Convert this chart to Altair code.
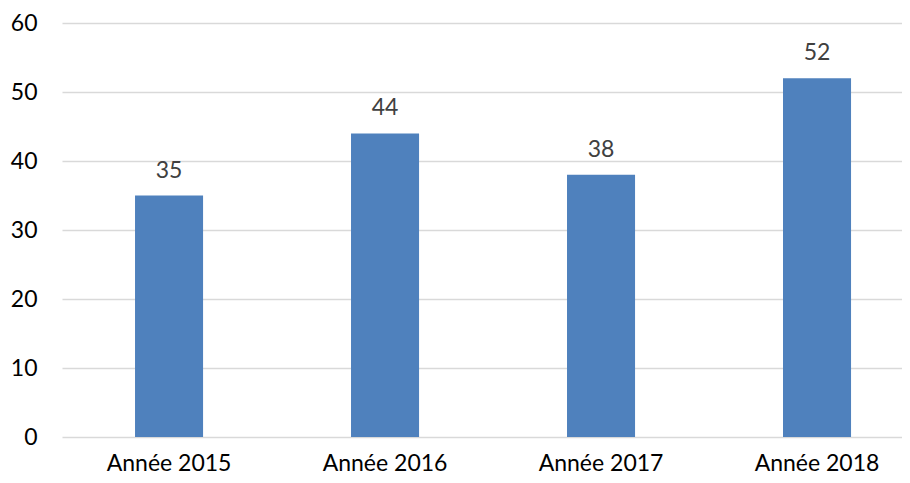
import altair as alt
import pandas as pd

categories = ["Année 2015", "Année 2016", "Année 2017", "Année 2018"]
values = [35, 44, 38, 52]

df = pd.DataFrame({"cat": categories, "val": values})

FONT = "Lato"

x = alt.X("cat:N", sort=categories, title=None,
          scale=alt.Scale(paddingInner=0.685, paddingOuter=0.287, align=0.589),
          axis=alt.Axis(labelAngle=0, ticks=False, domain=False, labelFontSize=23,
                        labelColor="#000000", labelPadding=33, labelBaseline="alphabetic",
                        labelFont=FONT))
y = alt.Y("val:Q", title=None,
          scale=alt.Scale(domain=[0, 60], nice=False),
          axis=alt.Axis(values=[0, 10, 20, 30, 40, 50, 60], ticks=False, domain=False,
                        labelFontSize=23, labelColor="#000000", labelPadding=25,
                        labelFont=FONT, gridColor="#d9d9d9", gridWidth=1.5))

base = alt.Chart(df).encode(x=x, y=y)
bars = base.mark_bar(color="#4F81BD")
labels = base.mark_text(baseline="alphabetic", dy=-18, fontSize=23, color="#404040",
                        font=FONT).encode(text="val:Q")

chart = (bars + labels).properties(
    width=840, height=414,
    autosize=alt.AutoSizeParams(type="none"),
    padding={"left": 54, "top": 15, "right": 0, "bottom": 38},
).configure_view(stroke=None)

chart.save("out.html", embed_options={"renderer": "svg", "actions": False})
